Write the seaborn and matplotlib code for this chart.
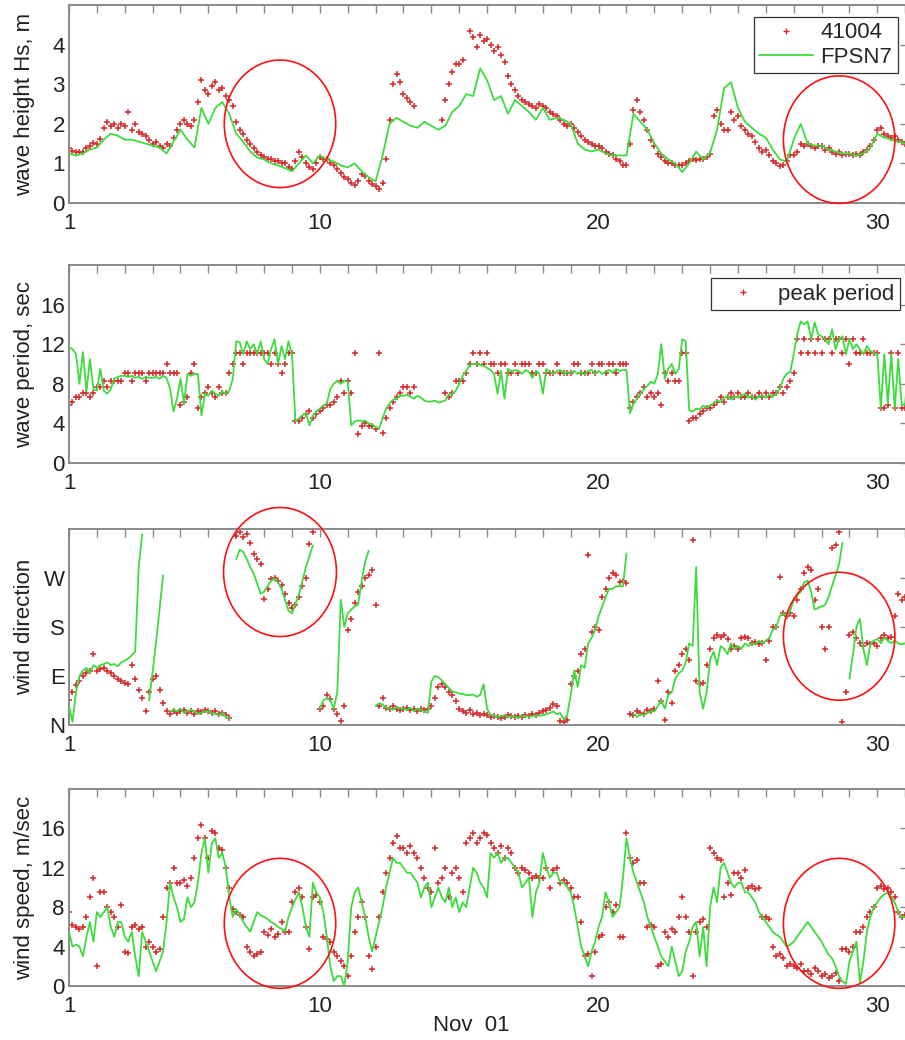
import numpy as np
import pandas as pd
import matplotlib
matplotlib.use("Agg")
import matplotlib.pyplot as plt
from matplotlib.patches import Ellipse
from matplotlib.lines import Line2D
import seaborn as sns

nan = np.nan

# Buoy 41004 (red +), 3-hourly samples, one row per day of Nov 2001
hs_41004 = [
    1.40, 1.32, 1.30, 1.28, 1.30, 1.38, 1.45, 1.52,
    1.50, 1.62, 1.90, 2.05, 1.95, 2.00, 1.90, 2.00,
    1.95, 2.30, 1.85, 2.00, 1.80, 1.75, 1.70, 1.60,
    1.50, 1.55, 1.45, 1.40, 1.50, 1.45, 1.65, 1.85,
    2.00, 2.10, 2.00, 1.95, 2.10, 2.55, 3.10, 2.85,
    2.75, 2.95, 3.05, 2.85, 2.90, 2.70, 2.60, 2.45,
    2.05, 1.85, 1.75, 1.60, 1.50, 1.40, 1.30, 1.22,
    1.15, 1.12, 1.10, 1.05, 1.05, 1.00, 1.00, 0.92,
    0.85, 1.05, 1.30, 1.15, 1.00, 0.90, 0.85, 1.00,
    1.15, 1.10, 1.10, 1.00, 0.95, 0.85, 0.75, 0.65,
    0.60, 0.50, 0.45, 0.55, 0.72, 0.68, 0.55, 0.48,
    0.42, 0.35, 0.50, 1.10, 2.10, 3.00, 3.25, 3.05,
    2.75, 2.65, 2.55, 2.45, nan, nan, nan, nan,
    nan, nan, nan, 2.10, 2.60, 3.00, 3.30, 3.50,
    3.50, 3.60, nan, 4.35, 4.20, 3.95, 4.25, 4.10,
    4.15, 4.00, 3.85, 3.95, 3.75, 3.55, 3.20, 3.00,
    2.85, 2.70, 2.60, 2.55, 2.50, 2.45, 2.40, 2.50,
    2.45, 2.40, 2.30, 2.25, 2.20, 2.10, 2.00, 1.95,
    2.00, 1.90, 1.80, 1.70, 1.60, 1.55, 1.50, 1.45,
    1.45, 1.40, 1.30, 1.25, 1.20, 1.10, 1.05, 0.97,
    0.97, 1.50, 2.35, 2.60, 2.30, 2.10, 1.85, 1.60,
    1.45, 1.25, 1.15, 1.05, 1.00, 1.00, 0.97, 0.95,
    0.95, 1.00, 1.05, 1.10, 1.08, 1.12, 1.10, 1.15,
    1.25, 2.20, 2.35, 2.00, 1.85, 1.85, 2.30, 2.10,
    2.20, 1.95, 1.85, 1.75, 1.70, 1.55, 1.40, 1.30,
    1.35, 1.20, 1.05, 1.00, 0.93, 0.95, 1.05, 1.20,
    1.20, 1.30, 1.50, 1.45, 1.50, 1.45, 1.40, 1.45,
    1.45, 1.35, 1.40, 1.30, 1.25, 1.30, 1.20, 1.25,
    1.25, 1.20, 1.25, 1.20, 1.30, 1.35, 1.45, 1.60,
    1.85, 1.90, 1.75, 1.70, 1.65, 1.70, 1.60, 1.55,
    1.50, 1.55,
]

# FPSN7 (green line), 6-hourly
hs_fpsn7 = [
    1.25, 1.20, 1.25, 1.35,
    1.40, 1.60, 1.75, 1.70,
    1.60, 1.60, 1.55, 1.50,
    1.45, 1.40, 1.25, 1.55,
    1.85, 1.60, 1.40, 2.40,
    2.00, 2.40, 2.55, 2.25,
    1.75, 1.55, 1.30, 1.15,
    1.10, 1.00, 0.95, 0.88,
    0.80, 1.00, 1.20, 1.00,
    1.20, 1.10, 1.05, 0.95,
    0.90, 1.00, 0.80, 0.65,
    0.55, 1.20, 2.00, 2.15,
    2.05, 1.95, 1.90, 2.05,
    1.95, 1.85, 1.95, 2.30,
    2.45, 2.75, 2.70, 3.40,
    3.10, 2.60, 2.70, 2.25,
    2.60, 2.45, 2.30, 2.10,
    2.40, 2.10, 2.15, 2.10,
    2.00, 1.50, 1.35, 1.30,
    1.35, 1.25, 1.20, 1.20,
    1.20, 2.25, 2.05, 1.85,
    1.50, 1.25, 1.10, 1.00,
    0.78, 1.00, 1.30, 1.10,
    1.27, 1.85, 2.90, 3.05,
    2.40, 2.05, 1.90, 1.75,
    1.65, 1.35, 1.10, 1.05,
    1.60, 2.00, 1.50, 1.45,
    1.45, 1.35, 1.30, 1.25,
    1.25, 1.20, 1.25, 1.40,
    1.75, 1.65, 1.60, 1.55,
    1.50,
]

tp_41004 = [
    5.9, 6.2, 6.7, 6.7, 7.1, 7.1, 6.7, 7.1,
    7.7, 7.7, 8.3, 7.7, 8.3, 8.3, 8.3, 8.3,
    9.1, 9.1, 8.3, 9.1, 9.1, 9.1, 8.3, 9.1,
    9.1, 9.1, 9.1, 9.1, 10.0, 9.1, 9.1, 9.1,
    5.9, 6.2, 6.7, 9.1, 10.0, 5.6, 6.7, 7.1,
    7.7, 7.1, 6.7, 7.7, 7.1, 7.1, 9.1, 10.0,
    11.1, 11.1, 10.0, 11.1, 11.1, 11.1, 11.1, 11.1,
    11.1, 11.1, 10.0, 11.1, 10.0, 9.1, 10.0, 11.1,
    11.1, 4.2, 4.2, 4.5, 5.0, 5.3, 4.5, 5.0,
    5.3, 5.6, 5.9, 5.9, 6.2, 6.7, 8.3, 7.1,
    8.3, 7.1, 11.1, 2.9, 3.7, 4.0, 3.7, 3.7,
    3.4, 11.1, 3.0, 4.5, 5.6, 6.2, 6.7, 7.1,
    7.7, 7.7, 7.1, 7.7, nan, nan, nan, nan,
    nan, nan, nan, nan, 7.1, 6.7, 7.1, 8.3,
    8.3, 8.3, 9.1, 10.0, 11.1, 10.0, 11.1, 10.0,
    11.1, 10.0, 10.0, 9.1, 10.0, 10.0, 9.1, 9.1,
    10.0, 9.1, 10.0, 10.0, 10.0, 9.1, 9.1, 10.0,
    10.0, 9.1, 9.1, 9.1, 10.0, 9.1, 9.1, 9.1,
    9.1, 10.0, 10.0, 9.1, 9.1, 9.1, 10.0, 9.1,
    10.0, 10.0, 9.1, 10.0, 10.0, 9.1, 10.0, 10.0,
    10.0, 5.6, 6.2, 6.7, 7.1, 7.7, 6.7, 7.1,
    6.7, 7.1, 5.9, 9.1, 8.3, 9.1, 8.3, 8.3,
    11.1, 11.1, 4.2, 4.5, 4.5, 5.0, 5.3, 5.6,
    5.6, 5.9, 6.2, 6.7, 6.2, 6.7, 7.1, 6.7,
    7.1, 6.7, 6.7, 7.1, 6.7, 6.7, 7.1, 6.7,
    7.1, 6.7, 7.1, 7.1, 7.7, 7.1, 7.7, 8.3,
    9.1, 12.5, 11.1, 12.5, 11.1, 12.5, 11.1, 12.5,
    11.1, 12.5, 12.5, 11.1, 12.5, 12.5, 11.1, 12.5,
    10.0, 12.5, 11.1, 11.1, 12.5, 11.1, 11.1, 11.1,
    11.1, 5.6, 5.6, 5.9, 11.1, 5.6, 11.1, 5.6,
    5.6, 11.1,
]

tp_fpsn7 = [
    11.7, 11.5, 11.0, 8.0, 11.2, 7.2, 10.5, 7.5,
    7.3, 9.5, 7.3, 7.0, 7.5, 8.5, 8.7, 8.8,
    8.8, 8.7, 8.8, 8.6, 8.7, 8.5, 8.7, 8.6,
    8.6, 8.7, 8.5, 8.8, 8.6, 7.5, 5.2, 6.5,
    8.5, 6.0, 9.0, 8.8, 9.0, 9.0, 4.8, 7.0,
    6.8, 7.3, 7.0, 6.8, 7.2, 7.0, 7.3, 8.5,
    12.3, 12.2, 11.0, 12.3, 11.5, 12.0, 11.0, 12.3,
    10.5, 10.0, 11.5, 12.5, 10.0, 11.8, 10.5, 12.3,
    11.0, 4.2, 4.5, 4.8, 5.0, 3.8, 4.8, 5.2,
    5.5, 5.8, 6.0, 7.5, 8.0, 8.3, 8.0, 8.3,
    8.2, 3.8, 4.2, 4.3, 4.2, 4.3, 4.0, 3.9,
    3.6, 3.5, 4.5, 5.5, 6.0, 6.4, 6.5, 6.8,
    6.8, 6.9, 6.7, 6.5, 6.8, 6.6, 6.3, 6.2,
    6.2, 6.3, 6.1, 6.2, 6.3, 6.9, 7.0, 7.3,
    8.0, 8.8, 9.3, 9.9, 10.0, 10.0, 9.9, 9.8,
    9.6, 9.4, 9.0, 7.0, 9.3, 6.5, 9.5, 9.2,
    9.4, 9.3, 9.0, 9.4, 9.2, 8.6, 9.3, 9.0,
    7.0, 9.5, 9.2, 9.0, 9.3, 9.4, 9.0, 9.2,
    9.1, 9.3, 9.0, 9.2, 8.9, 9.3, 9.4, 9.0,
    9.3, 9.0, 9.2, 9.4, 9.1, 9.5, 9.3, 9.4,
    9.4, 5.0, 6.0, 6.5, 7.0, 7.5, 7.8, 8.2,
    8.0, 9.0, 12.0, 8.5, 9.5, 10.0, 9.0, 9.5,
    12.5, 12.3, 5.3, 5.2, 5.5, 5.4, 5.8, 5.6,
    5.8, 6.0, 6.3, 6.2, 6.5, 6.8, 6.4, 6.7,
    6.6, 6.8, 7.0, 6.6, 6.8, 6.4, 6.7, 6.8,
    6.6, 6.9, 6.7, 7.0, 7.5, 8.5, 9.0, 9.2,
    11.0, 13.0, 14.3, 14.0, 14.3, 12.5, 14.2, 13.0,
    12.8, 12.5, 12.0, 13.5, 11.5, 12.5, 12.8, 11.0,
    12.5, 11.5, 12.0, 11.5, 11.0, 11.8, 11.3, 11.1,
    11.0, 5.5, 11.0, 6.0, 11.0, 5.5, 10.5, 5.8,
    6.0, 11.0,
]

wd_41004 = [
    46, 60, 73, 80, 90, 95, 100, 130,
    100, 103, 105, 100, 95, 90, 85, 80,
    78, 75, 110, 85, 65, 50, 25, 60,
    85, 90, 65, 40, 25, 20, 25, 22,
    25, 28, 22, 25, 20, 25, 23, 28,
    25, 22, 25, 20, 22, 18, 12, nan,
    348, 355, 345, 350, 335, 315, 305, 295,
    232, 250, 268, 270, 265, 258, 240, 225,
    215, 220, 235, 255, 270, 333, 354, nan,
    30, 35, 55, 48, 30, 20, 8, 35,
    175, 195, 225, 245, 255, 270, 275, 285,
    220, 35, 50, 32, 30, 35, 30, 28,
    30, 32, 28, 30, 25, 30, 28, 30,
    35, 50, 70, 75, 70, 60, 55, 45,
    30, 25, 22, 28, 20, 22, 18, 20,
    18, 15, 17, 15, 12, 15, 18, 16,
    14, 17, 15, 18, 16, 20, 18, 22,
    25, 28, 32, 38, 35, 8, 5, 10,
    75, 90, 100, 130, 140, 312, 170, 180,
    175, 235, 250, 270, 280, 275, 262, 265,
    260, 20, 18, 25, 22, 20, 28, 25,
    30, 80, 45, 10, 60, 40, 100, 110,
    130, 140, 120, 340, 80, 75, 78, 110,
    140, 160, 165, 162, 165, 158, 140, 145,
    140, 160, 162, 160, 150, 152, 148, 150,
    120, 155, 180, 180, 272, 205, 200, 205,
    200, 230, 250, 280, 290, 285, 230, 250,
    180, 140, 180, 325, 330, 355, 5, 60,
    165, 170, 160, 150, 145, 150, 148, 150,
    145, 160, 165, 160, 162, 200, 240, 230,
    235, 220,
]

wd_fpsn7 = [
    34, 6, 60, 90, 100, 105, 95, 110,
    105, 110, 112, 115, 110, 112, 108, 115,
    118, 122, 128, 135, 290, 350, nan, 45,
    98, 153, 213, 275, nan, 25, 28, 25,
    30, 22, 25, 28, 25, 20, 22, 25,
    25, 22, 20, 18, 22, 15, 12, nan,
    305, 322, 318, 305, 290, 278, 260, 241,
    245, 255, 265, 269, 262, 250, 230, 210,
    205, 222, 240, 265, 290, 310, 330, nan,
    30, 45, 50, 45, 30, 60, 230, 180,
    205, 212, 218, 222, 265, 300, 320, nan,
    35, 40, 38, 32, 30, 28, 33, 30,
    30, 28, 32, 25, 30, 28, 25, 22,
    80, 90, 88, 82, 75, 68, 62, 60,
    58, 57, 55, 55, 56, 52, 55, 75,
    30, 18, 17, 15, 16, 18, 15, 16,
    15, 14, 16, 17, 15, 16, 18, 17,
    18, 20, 22, 25, 20, 22, 10, 18,
    55, 100, 70, 110, 105, 150, 160, 175,
    200, 217, 235, 250, 250, 255, 255, 255,
    315, nan, 20, 15, 20, 18, 22, 25,
    25, 35, 45, 30, 55, 60, 85, 95,
    100, 115, 150, 145, 290, 60, 30, 60,
    120, 135, 110, 145, 140, 130, 150, 140,
    145, 140, 150, 145, 150, 148, 155, 150,
    155, 160, 175, 180, 200, 205, 200, 210,
    230, 238, 245, 262, 265, 245, 212, 215,
    218, 220, 235, 255, 275, 295, 335, nan,
    85, 130, 180, 195, 140, 110, 150, 155,
    158, 150, 160, 155, 150, 155, 150, 148,
    150, 150,
]

ws_41004 = [
    7.5, 6.2, 6.0, 5.8, 6.0, 7.0, 9.0, 11.0,
    2.0, 9.5, 9.5, 8.0, 7.5, 7.0, 6.0, 8.2,
    3.5, 3.3, 6.0, 6.2, 5.8, 6.0, 4.0, 4.5,
    4.0, 3.5, 3.8, 7.0, 10.0, 10.5, 12.0, 10.5,
    10.5, 10.8, 10.2, 11.0, 13.0, 15.0, 16.3, 15.0,
    13.0, 15.7, 15.5, 14.0, 13.8, 12.0, 10.0, 7.8,
    7.5, 7.2, 7.0, 4.0, 3.5, 3.0, 3.2, 3.5,
    5.5, 5.2, 5.8, 5.0, 5.3, 6.5, 5.5, 5.5,
    8.5, 9.5, 10.0, 9.0, 6.0, 3.8, 9.0, 9.2,
    8.5, 5.0, 4.8, 4.5, 3.5, 3.0, 2.5, 2.0,
    1.0, 3.0, 5.5, 7.0, 8.5, 7.0, 3.0, 1.7,
    4.0, 7.0, 9.5, 11.5, 13.0, 14.5, 15.2, 14.0,
    14.0, 13.5, 14.2, 13.5, 13.0, 12.0, 11.0, 10.0,
    9.5, 14.0, 10.5, 11.0, 12.0, 9.0, 11.5, 12.0,
    11.0, 9.5, 14.5, 15.0, 15.5, 14.5, 15.0, 15.5,
    15.3, 14.5, 14.0, 13.5, 14.2, 13.0, 14.0, 13.5,
    12.0, 11.5, 12.0, 11.8, 11.5, 11.0, 11.2, 11.0,
    11.0, 12.0, 10.0, 11.8, 12.0, 10.5, 10.8, 10.5,
    10.0, 9.0, 9.0, 6.5, 3.0, 3.2, 1.0, 3.5,
    5.0, 5.2, 8.0, 8.5, 7.5, 8.2, 5.0, 5.0,
    15.5, 13.0, 12.5, 12.8, 10.5, 10.5, 6.0, 6.2,
    6.0, 2.0, 2.2, 5.5, 5.0, 5.8, 5.5, 7.0,
    9.0, 7.0, 5.5, 1.0, 5.5, 6.5, 6.8, 6.0,
    14.0, 13.5, 13.0, 12.8, 9.0, 10.5, 9.2, 11.5,
    11.5, 11.0, 11.8, 10.0, 10.2, 9.8, 10.0, 7.0,
    7.0, 6.8, 4.0, 3.0, 3.2, 2.8, 2.0, 2.2,
    2.0, 1.8, 2.2, 1.5, 1.5, 1.2, 1.8, 1.5,
    1.0, 1.2, 0.8, 1.0, 1.3, 0.5, 3.8, 3.8,
    3.5, 4.0, 5.5, 5.5, 6.0, 7.0, 7.5, 8.0,
    10.0, 10.2, 9.8, 10.0, 9.5, 9.0, 7.5, 7.0,
    7.2, 7.0,
]

ws_fpsn7 = [
    5.5, 4.0, 4.2, 4.0, 3.0, 5.0, 6.5, 4.5,
    7.5, 7.0, 7.5, 8.0, 6.0, 5.0, 6.5, 6.5,
    5.0, 4.5, 5.5, 3.0, 1.0, 5.5, 4.5, 3.5,
    2.5, 1.5, 2.5, 3.5, 6.5, 10.5, 9.0, 8.0,
    6.5, 6.8, 9.0, 8.0, 8.5, 10.5, 13.5, 15.0,
    11.5, 14.5, 15.0, 13.0, 13.5, 12.0, 9.0, 7.0,
    7.8, 7.2, 6.5, 6.0, 5.5, 6.5, 7.5, 7.2,
    7.0, 6.8, 6.5, 6.3, 6.0, 5.8, 5.5, 7.0,
    8.0, 8.8, 9.5, 8.0, 6.0, 5.0, 10.5, 9.5,
    9.0, 7.5, 5.0, 2.0, 0.5, 1.0, 1.0, 0.0,
    2.5, 8.0, 9.5, 10.0, 8.5, 7.0, 5.0, 3.5,
    5.0, 6.5, 8.0, 10.0, 11.5, 13.0, 12.5, 12.5,
    12.0, 11.5, 11.5, 11.0, 10.5, 9.0, 10.0, 10.5,
    8.0, 9.0, 10.0, 9.0, 8.5, 10.0, 8.0, 9.0,
    7.5, 8.5, 8.0, 10.0, 12.0, 11.5, 10.5, 10.0,
    9.0, 13.5, 13.0, 13.5, 12.5, 13.0, 13.0, 12.5,
    12.0, 11.5, 10.0, 10.5, 11.0, 7.0, 9.5, 10.5,
    13.5, 12.0, 11.0, 11.5, 11.5, 10.5, 10.5, 10.0,
    9.5, 8.0, 6.0, 4.0, 3.0, 2.0, 3.5, 4.5,
    6.0, 7.0, 9.5, 8.5, 7.0, 7.5, 8.0, 11.0,
    15.0, 13.0, 11.5, 10.5, 9.5, 8.5, 7.0, 6.0,
    5.0, 4.0, 3.0, 2.5, 2.0, 4.0, 2.5, 1.0,
    1.5, 3.5, 4.5, 6.0, 6.5, 3.0, 6.0, 2.0,
    8.0, 10.0, 8.5, 12.0, 12.5, 11.5, 10.5, 10.0,
    10.5, 10.5, 9.5, 9.5, 9.0, 8.5, 7.5, 7.0,
    6.5, 6.0, 5.5, 5.2, 5.0, 4.5, 4.0, 4.2,
    4.5, 5.0, 5.5, 6.0, 6.5, 6.0, 5.5, 5.0,
    4.5, 3.8, 3.2, 2.8, 2.0, 1.0, 0.5, 0.2,
    2.5, 3.5, 4.5, 0.3, 2.5, 5.5, 7.0, 8.0,
    8.5, 9.0, 9.3, 9.5, 9.0, 8.5, 7.5, 7.0,
    7.0, 7.0,
]

ylabels = ["wave height Hs, m", "wave period, sec", "wind direction", "wind speed, m/sec"]
dir_ticks = [0, 90, 180, 270]
dir_labels = ["N", "E", "S", "W"]
day_labels = {1: "1", 10: "10", 20: "20", 30: "30"}


def frame(values, per_day):
    v = np.array(values, dtype=float)
    df = pd.DataFrame({"day": 1 + np.arange(len(v)) / per_day, "val": v,
                       "seg": np.cumsum(np.isnan(v))})
    return df.dropna()


RED = "#d62a2a"
GREEN = "#3ddc3d"
GREY = "#8a8a8a"
INK = "#222222"

sns.set_theme(style="white")
plt.rcParams["font.family"] = ["Liberation Sans", "DejaVu Sans"]

W, H = 905, 1040
fig = plt.figure(figsize=(W / 100, H / 100), dpi=100)
tops = [5, 265, 529, 789]
bottoms = [203, 463, 725, 986]
axes = [fig.add_axes([69 / W, 1 - b / H, (908 - 69) / W, (b - t) / H])
        for t, b in zip(tops, bottoms)]

panels = [
    (hs_41004, 8, hs_fpsn7, 4, (0, 5), [0, 1, 2, 3, 4]),
    (tp_41004, 8, tp_fpsn7, 8, (0, 20), [0, 4, 8, 12, 16]),
    (wd_41004, 8, wd_fpsn7, 8, (0, 360), dir_ticks),
    (ws_41004, 8, ws_fpsn7, 8, (0, 20), [0, 4, 8, 12, 16]),
]

for i, (ax, (red, rpd, green, gpd, ylim, yt)) in enumerate(zip(axes, panels)):
    rdf = frame(red, rpd)
    gdf = frame(green, gpd)
    sns.scatterplot(data=rdf, x="day", y="val", ax=ax, marker="+", s=16,
                    color=RED, linewidth=1.1, legend=False, zorder=2)
    sns.lineplot(data=gdf, x="day", y="val", units="seg", estimator=None,
                 ax=ax, color=GREEN, linewidth=1.3, legend=False, zorder=3)

    ax.set_xlim(1, 31.1)
    ax.set_ylim(*ylim)
    ax.set_xticks(range(1, 32))
    ax.set_xticklabels([day_labels.get(d, "") for d in range(1, 32)])
    ax.set_yticks(yt)
    if i == 2:
        ax.set_yticklabels(dir_labels)
    ax.tick_params(direction="in", length=6, width=1.0, color=GREY,
                   labelcolor=INK, labelsize=16, top=True, right=True)
    ax.tick_params(axis="x", pad=7)
    ax.tick_params(axis="y", pad=3)
    for sp in ax.spines.values():
        sp.set_color(GREY)
        sp.set_linewidth(1.4)
    ax.set_xlabel("")
    ax.set_ylabel(ylabels[i], fontsize=16, color=INK)
    ax.yaxis.set_label_coords(-0.0405, 0.5)

# legends
leg_kw = dict(frameon=True, fancybox=False, edgecolor="#333333", framealpha=1,
              fontsize=16, handlelength=2.4, handletextpad=0.35, borderpad=0.25,
              labelspacing=0.15, borderaxespad=0)
plus = Line2D([], [], ls="none", marker="+", color=RED, markersize=4, mew=1.0)
gline = Line2D([], [], color=GREEN, linewidth=1.3)
lg = axes[0].legend([plus, gline], ["41004", "FPSN7"], loc="upper right",
                    bbox_to_anchor=(0.988, 0.94), **leg_kw)
lg.get_frame().set_linewidth(0.9)
lg2 = axes[1].legend([plus], ["peak period"], loc="upper right",
                     bbox_to_anchor=(0.990, 0.934), **leg_kw)
lg2.get_frame().set_linewidth(0.9)

# red circles highlighting comparison regions
circles = [
    (0, 8.57, 2.0, 4.0, 3.22), (0, 28.63, 1.6, 4.0, 3.22),
    (2, 8.57, 281, 4.05, 237), (2, 28.63, 163, 4.0, 235),
    (3, 8.57, 6.36, 4.0, 13.2), (3, 28.63, 6.36, 4.0, 13.2),
]
for k, cx, cy, w, h in circles:
    axes[k].add_patch(Ellipse((cx, cy), w, h, fill=False, ec="#ff1010",
                              lw=1.2, clip_on=False, zorder=5))

axes[3].set_xlabel("Nov  01", fontsize=16, color=INK)
axes[3].xaxis.set_label_coords(0.479, -0.147)

fig.savefig("out.png", dpi=100)
